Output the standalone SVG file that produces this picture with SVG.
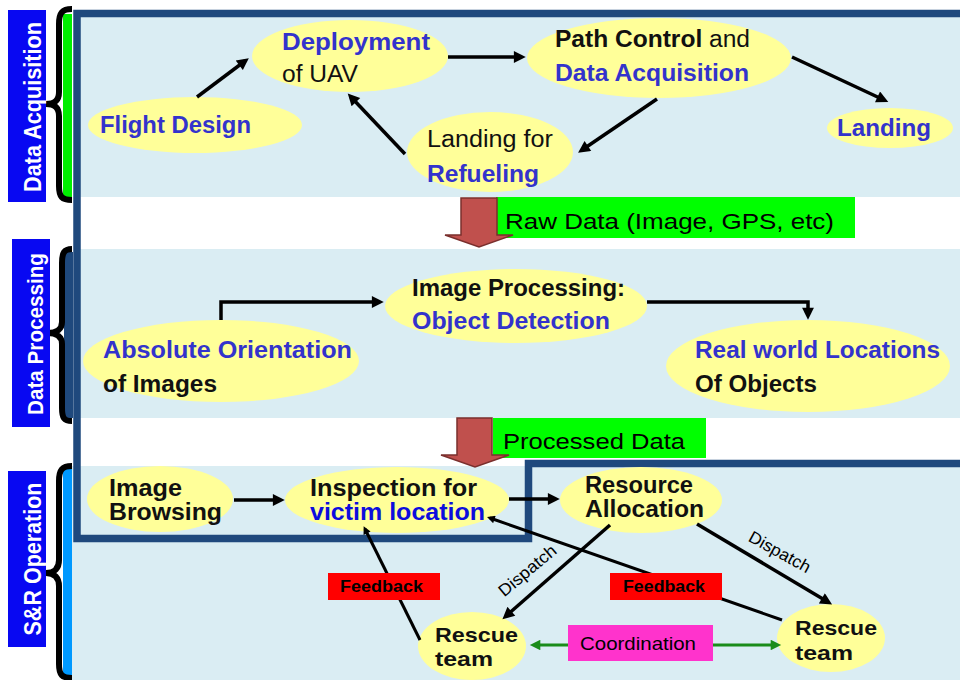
<svg xmlns="http://www.w3.org/2000/svg" width="960" height="680" viewBox="0 0 960 680">
<defs>
<style>
.panel{fill:#daedf3}
.frame{fill:none;stroke:#1f497d;stroke-width:7.5}
.brace{fill:none;stroke:#000;stroke-width:6;stroke-linejoin:round}
.side{fill:#0808f2}
.sidet{font-family:"Liberation Sans",Arial,sans-serif;font-weight:bold;fill:#fff;text-anchor:middle}
.node{fill:#ffff99}
.t{font-family:"Liberation Sans",Arial,sans-serif;font-size:23px;fill:#111}
.t2{font-family:"Liberation Sans",Arial,sans-serif;font-size:21px;fill:#111}
.b{font-weight:bold}
.bl{fill:#3333cc}
.vb{fill:#0d0ddd}
.con{fill:none;stroke:#000;stroke-width:3.5}
.thin{fill:none;stroke:#000;stroke-width:3}
.coord{fill:none;stroke:#1a8c1a;stroke-width:3}
.big{fill:#c0504d;stroke:#7a2f2d;stroke-width:1.5;stroke-linejoin:miter}
.green{fill:#00ff00}
.red{fill:#ff0000}
.mag{fill:#ff33cc}
.lbl{font-family:"Liberation Sans",Arial,sans-serif;fill:#000}
</style>
<marker id="ah" viewBox="0 0 10 10" refX="6" refY="5" markerWidth="4" markerHeight="3.4" orient="auto" markerUnits="strokeWidth">
<path d="M0,0 L10,5 L0,10 z" fill="#000"/>
</marker>
<marker id="ahs" viewBox="0 0 10 10" refX="6" refY="5" markerWidth="3" markerHeight="2.6" orient="auto" markerUnits="strokeWidth">
<path d="M0,0 L10,5 L0,10 z" fill="#000"/>
</marker>
<marker id="ahg" viewBox="0 0 10 10" refX="6" refY="5" markerWidth="4.5" markerHeight="3.5" orient="auto-start-reverse" markerUnits="strokeWidth">
<path d="M0,0 L10,5 L0,10 z" fill="#1a8c1a"/>
</marker>
</defs>

<rect width="960" height="680" fill="#fff"/>

<g id="panels">
<rect class="panel" x="76" y="14" width="884" height="183"/>
<rect class="panel" x="76" y="249" width="884" height="169"/>
<rect class="panel" x="70" y="466" width="890" height="214"/>
</g>

<g id="frame">
<path class="frame" d="M960,13.5 H77 V538.5 H528.5 V463.5 H960"/>
</g>

<g id="braces">
<rect x="63" y="14" width="9" height="183" fill="#00ee00"/>
<rect x="64" y="252" width="9" height="166" fill="#1f497d"/>
<rect x="63" y="468" width="9" height="208" fill="#0099ff"/>
<path class="brace" d="M72,9 C62,9 59,13 59,24 V92 C59,100 55,104 46,104 C55,104 59,108 59,116 V186 C59,197 62,200 72,200"/>
<path class="brace" d="M72,249 C64,249 62,253 62,263 V322 C62,329 57,333 48,333 C57,333 62,337 62,344 V408 C62,418 64,421 72,421"/>
<path class="brace" d="M72,466 C62,466 59,470 59,481 V560 C59,568 55,573 46,573 C55,573 59,578 59,586 V664 C59,675 62,678 72,678"/>
</g>

<g id="side-labels">
<g id="lbl-acq">
<rect class="side" x="8" y="10" width="38" height="192"/>
<text class="sidet" transform="translate(41,107) rotate(-90)" font-size="24" textLength="170" lengthAdjust="spacingAndGlyphs">Data Acquisition</text>
</g>
<g id="lbl-proc">
<rect class="side" x="12" y="239" width="38" height="188"/>
<text class="sidet" transform="translate(43,334) rotate(-90)" font-size="22" textLength="162" lengthAdjust="spacingAndGlyphs">Data Processing</text>
</g>
<g id="lbl-sr">
<rect class="side" x="8" y="471" width="38" height="176"/>
<text class="sidet" transform="translate(41,559) rotate(-90)" font-size="24" textLength="153" lengthAdjust="spacingAndGlyphs">S&amp;R Operation</text>
</g>
</g>

<g id="flight-design">
<ellipse class="node" cx="195" cy="125" rx="107" ry="28"/>
<text class="t b bl" x="100" y="133" textLength="151" lengthAdjust="spacingAndGlyphs">Flight Design</text>
</g>
<g id="deployment">
<ellipse class="node" cx="350" cy="56" rx="98" ry="36"/>
<text class="t b bl" x="282" y="50" textLength="148" lengthAdjust="spacingAndGlyphs">Deployment</text>
<text class="t" x="282" y="82" textLength="76" lengthAdjust="spacingAndGlyphs">of UAV</text>
</g>
<g id="path-control">
<ellipse class="node" cx="659" cy="58" rx="132" ry="40"/>
<text class="t" x="555" y="47" textLength="195" lengthAdjust="spacingAndGlyphs"><tspan class="b">Path Control</tspan> and</text>
<text class="t b bl" x="555" y="81" textLength="194" lengthAdjust="spacingAndGlyphs">Data Acquisition</text>
</g>
<g id="landing">
<ellipse class="node" cx="890" cy="128" rx="63" ry="20"/>
<text class="t b bl" x="837" y="136" textLength="94" lengthAdjust="spacingAndGlyphs">Landing</text>
</g>
<g id="refueling">
<ellipse class="node" cx="490" cy="152" rx="83" ry="40"/>
<text class="t" x="427" y="147" textLength="126" lengthAdjust="spacingAndGlyphs">Landing for</text>
<text class="t b bl" x="427" y="182" textLength="112" lengthAdjust="spacingAndGlyphs">Refueling</text>
</g>

<g id="abs-orientation">
<ellipse class="node" cx="221" cy="361" rx="138" ry="41"/>
<text class="t b bl" x="103" y="358" textLength="249" lengthAdjust="spacingAndGlyphs">Absolute Orientation</text>
<text class="t b" x="103" y="392" textLength="114" lengthAdjust="spacingAndGlyphs">of Images</text>
</g>
<g id="image-processing">
<ellipse class="node" cx="516" cy="306" rx="131" ry="37"/>
<text class="t b" x="412" y="296" textLength="213" lengthAdjust="spacingAndGlyphs">Image Processing:</text>
<text class="t b bl" x="412" y="329" textLength="198" lengthAdjust="spacingAndGlyphs">Object Detection</text>
</g>
<g id="real-world">
<ellipse class="node" cx="808" cy="366" rx="142" ry="46"/>
<text class="t b bl" x="695" y="358" textLength="245" lengthAdjust="spacingAndGlyphs">Real world Locations</text>
<text class="t b" x="695" y="392" textLength="122" lengthAdjust="spacingAndGlyphs">Of Objects</text>
</g>

<g id="image-browsing">
<ellipse class="node" cx="160" cy="499" rx="73" ry="33"/>
<text class="t b" x="109" y="496" textLength="73" lengthAdjust="spacingAndGlyphs">Image</text>
<text class="t b" x="109" y="520" textLength="113" lengthAdjust="spacingAndGlyphs">Browsing</text>
</g>
<g id="inspection">
<ellipse class="node" cx="397" cy="500" rx="112" ry="33"/>
<text class="t b" x="310" y="496" textLength="167" lengthAdjust="spacingAndGlyphs">Inspection for</text>
<text class="t b vb" x="310" y="520" textLength="175" lengthAdjust="spacingAndGlyphs">victim location</text>
</g>
<g id="resource-allocation">
<ellipse class="node" cx="641" cy="500" rx="81" ry="33"/>
<text class="t b" x="585" y="493" textLength="108" lengthAdjust="spacingAndGlyphs">Resource</text>
<text class="t b" x="585" y="517" textLength="119" lengthAdjust="spacingAndGlyphs">Allocation</text>
</g>
<g id="rescue-left">
<ellipse class="node" cx="472" cy="646" rx="54" ry="34"/>
<text class="t2 b" x="435" y="642" textLength="83" lengthAdjust="spacingAndGlyphs">Rescue</text>
<text class="t2 b" x="435" y="666" textLength="58" lengthAdjust="spacingAndGlyphs">team</text>
</g>
<g id="rescue-right">
<ellipse class="node" cx="831" cy="638" rx="54" ry="34"/>
<text class="t2 b" x="795" y="635" textLength="82" lengthAdjust="spacingAndGlyphs">Rescue</text>
<text class="t2 b" x="795" y="660" textLength="58" lengthAdjust="spacingAndGlyphs">team</text>
</g>

<g id="connectors">
<path class="con" d="M197,97 L245,61" marker-end="url(#ah)"/>
<path class="con" d="M448,57 L521,57" marker-end="url(#ah)"/>
<path class="con" d="M792,57 L884,100" marker-end="url(#ah)"/>
<path class="con" d="M657,99 L582,150" marker-end="url(#ah)"/>
<path class="con" d="M405,154 L351,97" marker-end="url(#ah)"/>
<path class="con" d="M221,320 V302 H379" marker-end="url(#ah)"/>
<path class="con" d="M647,302 H808 V315" marker-end="url(#ah)"/>
<path class="con" d="M234,500 H280" marker-end="url(#ah)"/>
<path class="con" d="M509,499 H555" marker-end="url(#ah)"/>
<path class="con" d="M610,525 L506,616" marker-end="url(#ah)"/>
<path class="con" d="M697,524 L828,602" marker-end="url(#ah)"/>
<path class="thin" d="M782,620 L490,518" marker-end="url(#ahs)"/>
<path class="thin" d="M420,640 L365,529" marker-end="url(#ahs)"/>
<path class="coord" d="M534,645 H777" marker-start="url(#ahg)" marker-end="url(#ahg)"/>
<text class="lbl" font-size="17" transform="translate(531,575) rotate(-40)" text-anchor="middle" textLength="70" lengthAdjust="spacingAndGlyphs">Dispatch</text>
<text class="lbl" font-size="17" transform="translate(777,557) rotate(29)" text-anchor="middle" textLength="68" lengthAdjust="spacingAndGlyphs">Dispatch</text>
<g id="feedback-left">
<rect class="red" x="328" y="573" width="112" height="27"/>
<text class="lbl" font-weight="bold" font-size="16" x="340" y="592" textLength="83" lengthAdjust="spacingAndGlyphs">Feedback</text>
</g>
<g id="feedback-right">
<rect class="red" x="610" y="573" width="112" height="27"/>
<text class="lbl" font-weight="bold" font-size="16" x="623" y="592" textLength="82" lengthAdjust="spacingAndGlyphs">Feedback</text>
</g>
<g id="coordination">
<rect class="mag" x="568" y="625" width="145" height="36"/>
<text class="lbl" font-size="19" x="580" y="650" textLength="116" lengthAdjust="spacingAndGlyphs">Coordination</text>
</g>
</g>

<g id="raw-data">
<rect class="green" x="496" y="197" width="359" height="41"/>
<text class="lbl" font-size="22" x="505" y="229" textLength="329" lengthAdjust="spacingAndGlyphs">Raw Data (Image, GPS, etc)</text>
<path class="big" d="M461,198 H497 V235 H513 L479,247 L445,235 H461 Z"/>
</g>
<g id="processed-data">
<rect class="green" x="493" y="418" width="213" height="40"/>
<text class="lbl" font-size="22" x="503" y="449" textLength="182" lengthAdjust="spacingAndGlyphs">Processed Data</text>
<path class="big" d="M457,418 H492 V455 H509 L475,467 L441,455 H457 Z"/>
</g>
</svg>
